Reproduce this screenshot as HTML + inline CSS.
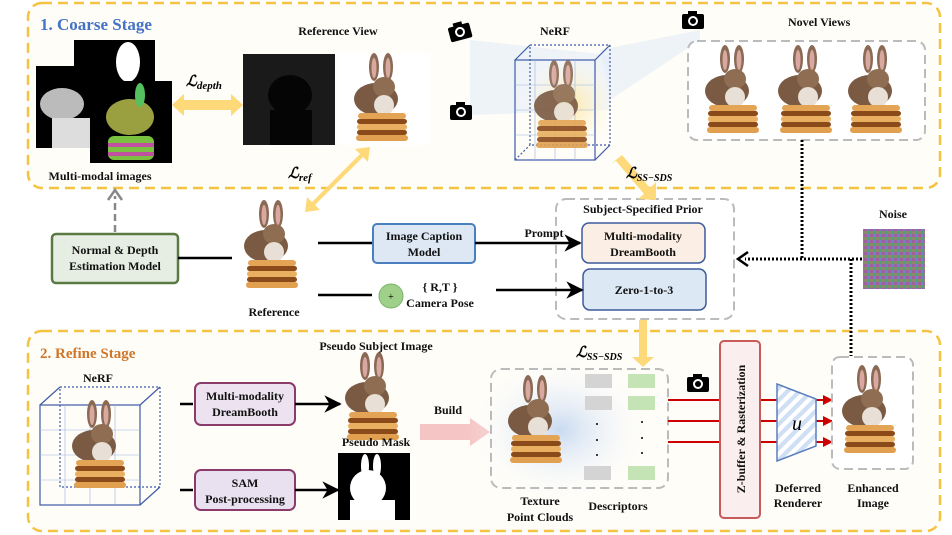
<!DOCTYPE html>
<html><head><meta charset="utf-8"><style>
html,body{margin:0;padding:0;background:#fff;}
svg{display:block;font-family:"Liberation Serif",serif;}
.b{font-weight:bold;font-size:12px;fill:#111;}
</style></head><body>
<svg width="952" height="535" viewBox="0 0 952 535" xmlns="http://www.w3.org/2000/svg">
<defs>
<g id="bun">
 <ellipse cx="22" cy="14" rx="5" ry="14" fill="#8a6a55"/>
 <ellipse cx="36" cy="14" rx="5" ry="14" fill="#8a6a55"/>
 <ellipse cx="22" cy="15" rx="2.5" ry="10" fill="#d9a8a0"/>
 <ellipse cx="36" cy="15" rx="2.5" ry="10" fill="#d9a8a0"/>
 <ellipse cx="24" cy="46" rx="22" ry="16" fill="#7a5a42"/>
 <ellipse cx="32" cy="34" rx="11" ry="10" fill="#8f6d52"/>
 <ellipse cx="32" cy="52" rx="10" ry="10" fill="#e8e0d6"/>
 <rect x="6" y="60" width="48" height="6" rx="3" fill="#e3a455"/>
 <rect x="5" y="66" width="50" height="5" rx="2.5" fill="#8a4a1a"/>
 <rect x="5" y="71" width="50" height="6" rx="3" fill="#e8b060"/>
 <rect x="5" y="77" width="50" height="5" rx="2.5" fill="#8a4a1a"/>
 <rect x="4" y="82" width="52" height="6" rx="3" fill="#e0a050"/>
</g>
<g id="cam"><rect x="-11" y="-7" width="22" height="15" rx="2" fill="#000"/><rect x="-5" y="-10" width="9" height="4" fill="#000"/><circle r="5" fill="#fff"/><circle r="3" fill="#000"/></g>
<marker id="ah" viewBox="0 0 10 10" refX="9" refY="5" markerWidth="7" markerHeight="7" orient="auto"><path d="M0,0 L10,5 L0,10 L3,5z" fill="#000"/></marker>
<marker id="rh" viewBox="0 0 10 10" refX="9" refY="5" markerWidth="5" markerHeight="5" orient="auto"><path d="M0,0 L10,5 L0,10z" fill="#c00"/></marker>
<linearGradient id="hat" gradientUnits="userSpaceOnUse" x1="0" y1="0" x2="6" y2="6" spreadMethod="repeat"><stop offset="0" stop-color="#cfe0f5"/><stop offset="0.5" stop-color="#cfe0f5"/><stop offset="0.5" stop-color="#fff"/><stop offset="1" stop-color="#fff"/></linearGradient>
<radialGradient id="glow"><stop offset="0" stop-color="#fde9a8"/><stop offset="1" stop-color="#fff" stop-opacity="0"/></radialGradient>
<radialGradient id="bglow"><stop offset="0" stop-color="#c9daf0"/><stop offset="1" stop-color="#fff" stop-opacity="0"/></radialGradient>
<pattern id="noise" width="6" height="6" patternUnits="userSpaceOnUse"><rect width="6" height="6" fill="#8a8a6a"/><rect width="3" height="3" fill="#a060a0"/><rect x="3" y="3" width="3" height="3" fill="#50a080"/><rect x="3" width="3" height="3" fill="#7080c0"/></pattern>
</defs>

<!-- Stage boxes -->
<rect x="28" y="3" width="912" height="185" rx="14" fill="#fffdf8" stroke="#f5c342" stroke-width="2.5" stroke-dasharray="10,6"/>
<rect x="28" y="331" width="912" height="200" rx="14" fill="#fffdf8" stroke="#f5c342" stroke-width="2.5" stroke-dasharray="10,6"/>
<text x="40" y="30" font-size="17" font-weight="bold" fill="#4472c4">1. Coarse Stage</text>
<text x="40" y="358" font-size="15" font-weight="bold" fill="#d0762a">2. Refine Stage</text>

<!-- Multi-modal images -->
<rect x="36" y="66" width="56" height="82" fill="#000"/>
<ellipse cx="62" cy="104" rx="22" ry="16" fill="#bbb"/><rect x="52" y="118" width="38" height="30" fill="#ddd"/>
<rect x="74" y="40" width="81" height="42" fill="#000"/>
<ellipse cx="128" cy="62" rx="12" ry="20" fill="#fff"/>
<rect x="90" y="81" width="82" height="82" fill="#000"/>
<ellipse cx="130" cy="117" rx="24" ry="18" fill="#9aa040"/>
<ellipse cx="140" cy="95" rx="5" ry="12" fill="#55c060"/>
<rect x="108" y="136" width="46" height="24" rx="6" fill="#7bc040"/>
<rect x="108" y="143" width="46" height="4" fill="#c050a0"/>
<rect x="108" y="152" width="46" height="4" fill="#c050a0"/>
<text x="100" y="180" class="b" text-anchor="middle">Multi-modal images</text>

<!-- L_depth -->
<path d="M172,105 L184,94 L184,100 L231,100 L231,94 L243,105 L231,116 L231,110 L184,110 L184,116z" fill="#fdd97a"/>
<text x="186" y="86" font-size="15" font-style="italic" font-weight="bold">ℒ<tspan font-size="11" dy="3">depth</tspan></text>

<!-- Reference view -->
<text x="338" y="35" class="b" text-anchor="middle">Reference View</text>
<rect x="243" y="54" width="92" height="91" fill="#1a1a1a"/>
<ellipse cx="290" cy="95" rx="22" ry="20" fill="#050505"/><rect x="270" y="110" width="42" height="35" fill="#050505"/>
<rect x="337" y="53" width="93" height="92" fill="#fff"/>
<use href="#bun" x="352" y="53"/>

<!-- L_ref -->
<path d="M305,212 L307,197 L312,202 L360,154 L355,149 L370,147 L368,162 L363,157 L315,205 L320,210z" fill="#fdd97a"/>
<text x="288" y="178" font-size="15" font-style="italic" font-weight="bold">ℒ<tspan font-size="11" dy="3">ref</tspan></text>

<!-- NeRF coarse -->
<path d="M470,40 L610,55 L610,110 L470,115z" fill="#e3ecf8" opacity="0.6"/>
<path d="M700,30 L600,50 L610,100 L700,40z" fill="#e3ecf8" opacity="0.6"/>
<circle cx="570" cy="105" r="55" fill="url(#glow)"/>
<text x="555" y="35" class="b" text-anchor="middle">NeRF</text>
<g stroke="#3d5aa8" fill="none" stroke-width="1.2">
 <rect x="515" y="60" width="80" height="100"/>
 <rect x="530" y="45" width="80" height="100" stroke-dasharray="2,2"/>
 <line x1="515" y1="60" x2="530" y2="45"/><line x1="595" y1="60" x2="610" y2="45"/>
 <line x1="595" y1="160" x2="610" y2="145"/><line x1="515" y1="160" x2="530" y2="145" stroke-dasharray="2,2"/>
</g>
<g stroke="#9db3dd" stroke-width="0.6">
 <line x1="535" y1="60" x2="535" y2="160"/><line x1="555" y1="60" x2="555" y2="160"/><line x1="575" y1="60" x2="575" y2="160"/>
 <line x1="515" y1="85" x2="595" y2="85"/><line x1="515" y1="110" x2="595" y2="110"/><line x1="515" y1="135" x2="595" y2="135"/>
</g>
<use href="#bun" x="532" y="60" opacity="0.9"/>
<use href="#cam" x="460" y="32" transform="rotate(-15 460 32)"/>
<use href="#cam" x="461" y="112"/>
<use href="#cam" x="693" y="21"/>
<use href="#cam" x="698" y="384"/>

<!-- Novel views -->
<text x="788" y="26" class="b">Novel Views</text>
<rect x="688" y="41" width="237" height="99" rx="9" fill="#fff" stroke="#bbb" stroke-width="2" stroke-dasharray="9,5"/>
<use href="#bun" x="703" y="45"/>
<use href="#bun" x="776" y="45"/>
<use href="#bun" x="846" y="45"/>

<!-- Subject prior (drawn first) -->
<rect x="556" y="199" width="178" height="120" rx="10" fill="#fff" stroke="#bbb" stroke-width="2" stroke-dasharray="9,5"/>
<text x="643" y="213" class="b" text-anchor="middle">Subject-Specified Prior</text>
<rect x="582" y="223" width="123" height="40" rx="7" fill="#fbeee4" stroke="#3d5a9c" stroke-width="1.5"/>
<text x="643" y="240" class="b" text-anchor="middle">Multi-modality</text>
<text x="643" y="256" class="b" text-anchor="middle">DreamBooth</text>
<rect x="583" y="269" width="123" height="41" rx="7" fill="#dce8f4" stroke="#3d5a9c" stroke-width="1.5"/>
<text x="644" y="294" class="b" text-anchor="middle">Zero-1-to-3</text>

<!-- L_SS-SDS coarse -->
<path d="M612,163 L622,155 L650,188 L656,182 L656,200 L638,199 L644,194 L616,161z" fill="#fdd97a"/>
<text x="626" y="178" font-size="15" font-style="italic" font-weight="bold">ℒ<tspan font-size="10" dy="3">SS−SDS</tspan></text>

<!-- dashed up arrow -->
<line x1="115" y1="232" x2="115" y2="196" stroke="#888" stroke-width="2.5" stroke-dasharray="7,4"/>
<path d="M108,200 L115,190 L122,200" fill="none" stroke="#888" stroke-width="2.5"/>

<!-- Normal&Depth -->
<rect x="52" y="234" width="126" height="49" rx="4" fill="#e6ede2" stroke="#5a7a44" stroke-width="2.5"/>
<text x="115" y="254" class="b" text-anchor="middle">Normal &amp; Depth</text>
<text x="115" y="270" class="b" text-anchor="middle">Estimation Model</text>
<line x1="178" y1="258" x2="232" y2="258" stroke="#000" stroke-width="2.5"/>

<use href="#bun" x="242" y="200"/>
<text x="274" y="316" class="b" text-anchor="middle">Reference</text>

<line x1="318" y1="243" x2="372" y2="243" stroke="#000" stroke-width="2.5"/>
<rect x="373" y="224" width="102" height="39" rx="4" fill="#dde8f4" stroke="#4a7fc0" stroke-width="2"/>
<text x="424" y="240" class="b" text-anchor="middle">Image Caption</text>
<text x="424" y="256" class="b" text-anchor="middle">Model</text>
<line x1="475" y1="243" x2="580" y2="243" stroke="#000" stroke-width="2.5" marker-end="url(#ah)"/>
<text x="544" y="237" class="b" text-anchor="middle">Prompt</text>

<line x1="318" y1="295" x2="372" y2="295" stroke="#000" stroke-width="2.5"/>
<circle cx="391" cy="296" r="12" fill="#9fd08a" stroke="#7cb36a"/>
<text x="391" y="300" font-size="10" text-anchor="middle">+</text>
<text x="440" y="291" class="b" text-anchor="middle">{ R,T }</text>
<text x="440" y="307" class="b" text-anchor="middle">Camera Pose</text>
<line x1="496" y1="290" x2="582" y2="290" stroke="#000" stroke-width="2.5" marker-end="url(#ah)"/>

<!-- dotted -->
<line x1="802" y1="140" x2="802" y2="259" stroke="#000" stroke-width="3" stroke-dasharray="2,2"/>
<line x1="862" y1="259" x2="745" y2="259" stroke="#000" stroke-width="3" stroke-dasharray="2,2"/>
<path d="M748,252 L738,259 L748,266" fill="none" stroke="#000" stroke-width="2.5"/>
<line x1="851" y1="259" x2="851" y2="356" stroke="#000" stroke-width="3" stroke-dasharray="2,2"/>
<text x="893" y="218" class="b" text-anchor="middle">Noise</text>
<rect x="863" y="229" width="62" height="60" fill="url(#noise)"/>

<!-- yellow down arrow -->
<path d="M639,320 L647,320 L647,357 L654,357 L643,367 L632,357 L639,357z" fill="#fdd97a"/>
<text x="576" y="357" font-size="15" font-style="italic" font-weight="bold">ℒ<tspan font-size="10" dy="3">SS−SDS</tspan></text>

<!-- Refine NeRF -->
<text x="98" y="382" class="b" text-anchor="middle">NeRF</text>
<g stroke="#3d5aa8" fill="none" stroke-width="1.2">
 <rect x="40" y="405" width="100" height="100"/>
 <rect x="60" y="387" width="100" height="100" stroke-dasharray="2,2"/>
 <line x1="40" y1="405" x2="60" y2="387"/><line x1="140" y1="405" x2="160" y2="387"/><line x1="140" y1="505" x2="160" y2="487"/>
</g>
<g stroke="#9db3dd" stroke-width="0.6">
 <line x1="65" y1="405" x2="65" y2="505"/><line x1="90" y1="405" x2="90" y2="505"/><line x1="115" y1="405" x2="115" y2="505"/>
 <line x1="40" y1="430" x2="140" y2="430"/><line x1="40" y1="455" x2="140" y2="455"/><line x1="40" y1="480" x2="140" y2="480"/>
</g>
<use href="#bun" x="70" y="400"/>

<line x1="180" y1="404" x2="193" y2="404" stroke="#000" stroke-width="2.5"/>
<rect x="195" y="383" width="100" height="42" rx="6" fill="#ede3f0" stroke="#8b3b6a" stroke-width="2"/>
<text x="245" y="400" class="b" text-anchor="middle">Multi-modality</text>
<text x="245" y="416" class="b" text-anchor="middle">DreamBooth</text>
<line x1="295" y1="404" x2="340" y2="404" stroke="#000" stroke-width="2.5" marker-end="url(#ah)"/>

<line x1="180" y1="490" x2="193" y2="490" stroke="#000" stroke-width="2.5"/>
<rect x="195" y="470" width="100" height="40" rx="6" fill="#e9e1ef" stroke="#8b3b6a" stroke-width="2"/>
<text x="245" y="487" class="b" text-anchor="middle">SAM</text>
<text x="245" y="503" class="b" text-anchor="middle">Post-processing</text>
<line x1="295" y1="490" x2="338" y2="490" stroke="#000" stroke-width="2.5" marker-end="url(#ah)"/>

<use href="#bun" x="343" y="352"/>
<text x="376" y="350" class="b" text-anchor="middle">Pseudo Subject Image</text>
<text x="376" y="446" class="b" text-anchor="middle">Pseudo Mask</text>
<rect x="338" y="453" width="72" height="67" fill="#000"/>
<ellipse cx="368" cy="488" rx="18" ry="18" fill="#fff"/>
<ellipse cx="365" cy="466" rx="4" ry="12" fill="#fff"/><ellipse cx="377" cy="466" rx="4" ry="12" fill="#fff"/>
<rect x="350" y="500" width="45" height="20" fill="#fff"/>

<text x="448" y="414" class="b" text-anchor="middle">Build</text>
<path d="M420,424 L470,424 L470,418 L490,432 L470,446 L470,440 L420,440z" fill="#f5c4c4"/>

<!-- point cloud -->
<ellipse cx="560" cy="430" rx="95" ry="75" fill="url(#bglow)"/>
<rect x="491" y="369" width="177" height="119" rx="10" fill="none" stroke="#bbb" stroke-width="2" stroke-dasharray="9,5"/>
<use href="#bun" x="506" y="375"/>
<g fill="#d4d4d4"><rect x="585" y="374" width="27" height="14"/><rect x="585" y="396" width="27" height="14"/><rect x="584" y="466" width="27" height="14"/></g>
<g fill="#c5e4b5"><rect x="628" y="374" width="27" height="14"/><rect x="628" y="396" width="27" height="14"/><rect x="628" y="466" width="27" height="14"/></g>
<g fill="#000"><circle cx="597" cy="424" r="1"/><circle cx="597" cy="440" r="1"/><circle cx="597" cy="455" r="1"/><circle cx="642" cy="422" r="1"/><circle cx="642" cy="438" r="1"/><circle cx="642" cy="453" r="1"/></g>
<text x="540" y="505" class="b" text-anchor="middle">Texture</text>
<text x="540" y="521" class="b" text-anchor="middle">Point Clouds</text>
<text x="618" y="510" class="b" text-anchor="middle">Descriptors</text>

<g stroke="#c00" stroke-width="2"><line x1="668" y1="400" x2="720" y2="400"/><line x1="668" y1="421" x2="720" y2="421"/><line x1="668" y1="442" x2="720" y2="442"/>
<line x1="760" y1="400" x2="777" y2="400"/><line x1="760" y1="421" x2="777" y2="421"/><line x1="760" y1="442" x2="777" y2="442"/>
<line x1="816" y1="400" x2="832" y2="400" marker-end="url(#rh)"/><line x1="816" y1="421" x2="832" y2="421" marker-end="url(#rh)"/><line x1="816" y1="442" x2="832" y2="442" marker-end="url(#rh)"/></g>
<rect x="720" y="341" width="40" height="177" rx="4" fill="#fbeeee" stroke="#c85a5a" stroke-width="2"/>
<text transform="translate(745,429) rotate(-90)" class="b" font-size="13" text-anchor="middle">Z-buffer &amp; Rasterization</text>
<path d="M777,384 L816,399 L816,446 L777,461z" fill="url(#hat)" stroke="#5a7fc0" stroke-width="1.5"/>
<text x="797" y="430" font-size="20" font-style="italic" text-anchor="middle">u</text>
<text x="798" y="492" class="b" text-anchor="middle">Deferred</text>
<text x="798" y="507" class="b" text-anchor="middle">Renderer</text>

<rect x="832" y="357" width="81" height="112" rx="8" fill="#fff" stroke="#bbb" stroke-width="2" stroke-dasharray="9,5"/>
<use href="#bun" x="840" y="365"/>
<text x="873" y="492" class="b" text-anchor="middle">Enhanced</text>
<text x="873" y="507" class="b" text-anchor="middle">Image</text>
</svg>
</body></html>
